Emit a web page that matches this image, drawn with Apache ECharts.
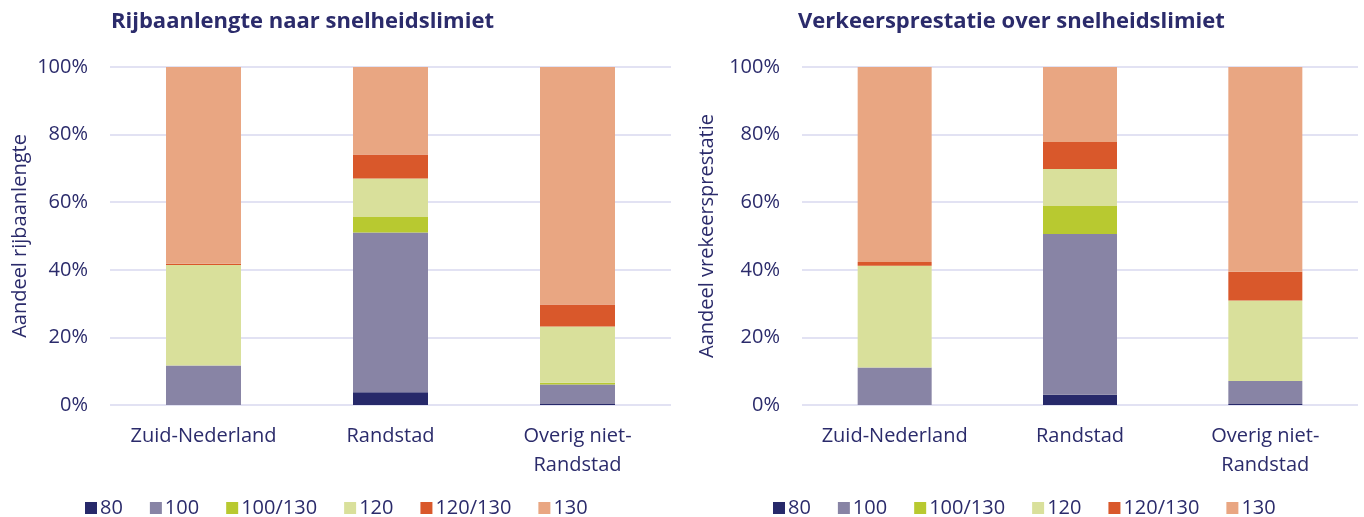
<!DOCTYPE html>
<html>
<head>
<meta charset="utf-8">
<script src="https://cdn.jsdelivr.net/npm/echarts@6/dist/echarts.min.js"></script>
<style>html,body{margin:0;padding:0;background:#fff}#c{width:1364px;height:517px}</style>
</head>
<body>
<div id="c"></div>
<script>
const categories = ['Zuid-Nederland', 'Randstad', 'Overig niet-\nRandstad'];
const seriesNames = ['80', '100', '100/130', '120', '120/130', '130'];
const colors = ['#27296A', '#8884A5', '#B8C930', '#D9E09B', '#D9582B', '#E9A682'];
const yTicks = [0, 20, 40, 60, 80, 100];

// Left: Rijbaanlengte (share of lane length, %)
const left80     = [0.0, 3.8, 0.3];
const left100    = [11.7, 47.2, 5.8];
const left100130 = [0.0, 4.6, 0.5];
const left120    = [29.7, 11.4, 16.6];
const left120130 = [0.4, 7.1, 6.5];
const left130    = [58.2, 25.9, 70.3];

// Right: Verkeersprestatie (share of traffic performance, %)
const right80     = [0.0, 3.0, 0.3];
const right100    = [11.1, 47.6, 6.8];
const right100130 = [0.0, 8.3, 0.0];
const right120    = [30.1, 10.9, 23.8];
const right120130 = [1.1, 8.0, 8.5];
const right130    = [57.7, 22.2, 60.6];

const leftData = [left80, left100, left100130, left120, left120130, left130];
const rightData = [right80, right100, right100130, right120, right120130, right130];

const FONT = 'Open Sans';
const TXT = '#2B2B6B';
const GRID = '#D9D9EF';

function xAxis(gi) {
  return {
    type: 'category', gridIndex: gi, data: categories,
    axisLine: {show: false}, axisTick: {show: false},
    axisLabel: {color: TXT, fontFamily: FONT, fontSize: 20, margin: 17, lineHeight: 29,
      interval: 0, hideOverlap: false}
  };
}
function yAxis(gi, name, gap) {
  return {
    type: 'value', gridIndex: gi, min: 0, max: 100, interval: 20,
    name: name, nameLocation: 'middle', nameGap: gap,
    nameTextStyle: {color: TXT, fontFamily: FONT, fontSize: 20},
    axisLine: {show: false}, axisTick: {show: false},
    axisLabel: {color: TXT, fontFamily: FONT, fontSize: 20, margin: 22,
      formatter: v => yTicks.includes(v) ? v + '%' : ''},
    splitLine: {lineStyle: {color: GRID, width: 1.5}}
  };
}
const series = [];
seriesNames.forEach((n, i) => {
  series.push({name: n, type: 'bar', stack: 'L', xAxisIndex: 0, yAxisIndex: 0,
    barWidth: 75, data: leftData[i], itemStyle: {color: colors[i]}});
});
seriesNames.forEach((n, i) => {
  series.push({name: n, type: 'bar', stack: 'R', xAxisIndex: 1, yAxisIndex: 1,
    barWidth: 74, data: rightData[i], itemStyle: {color: colors[i]}});
});
function legend(left) {
  return {
    left: left, top: 493, data: seriesNames, icon: 'rect',
    itemWidth: 12, itemHeight: 12, itemGap: 27,
    textStyle: {color: TXT, fontFamily: FONT, fontSize: 20, padding: [0, 0, 0, -2]}
  };
}
const chart = echarts.init(document.getElementById('c'), null, {renderer: 'canvas'});
chart.setOption({
  animation: false,
  color: colors,
  title: [
    {text: 'Rijbaanlengte naar snelheidslimiet', left: 106, top: 6,
     textStyle: {color: TXT, fontFamily: FONT, fontSize: 22, fontWeight: 'bold'}},
    {text: 'Verkeersprestatie over snelheidslimiet', left: 793, top: 6,
     textStyle: {color: TXT, fontFamily: FONT, fontSize: 22, fontWeight: 'bold'}}
  ],
  legend: [legend(80), legend(768)],
  grid: [
    {left: 110, width: 561, top: 67, bottom: 112},
    {left: 802, width: 556, top: 67, bottom: 112}
  ],
  xAxis: [xAxis(0), xAxis(1)],
  yAxis: [yAxis(0, 'Aandeel rijbaanlengte', 80), yAxis(1, 'Aandeel vrekeersprestatie', 85)],
  series: series
});
</script>
</body>
</html>
